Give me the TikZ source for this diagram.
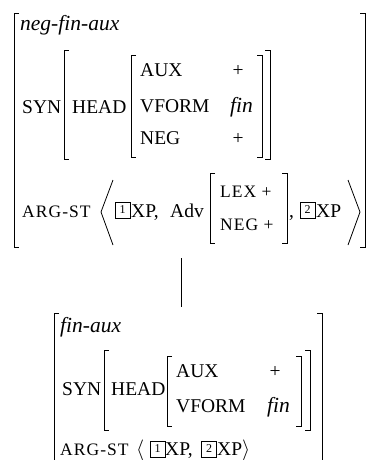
\documentclass[tikz,border=0pt]{standalone}
\usepackage{fontspec}
\newfontfamily\tms{Liberation Serif}
\newfontfamily\tmsc[LetterSpace=6]{Liberation Serif}
\begin{document}
\begin{tikzpicture}[x=1pt,y=-1pt,
  brk/.style={line width=0.8pt},
  txt/.style={anchor=base west, inner sep=0pt, font=\tms\fontsize{19.5}{22}\selectfont},
  itx/.style={anchor=base west, inner sep=0pt, font=\tms\itshape\fontsize{21.5}{22}\selectfont},
  scx/.style={anchor=base west, inner sep=0pt, font=\tmsc\fontsize{17.5}{20}\selectfont},
  tagbox/.style={draw, line width=0.6pt, inner sep=0pt, minimum width=15pt, minimum height=16pt, font=\tms\fontsize{12}{12}\selectfont}]
\useasboundingbox (0,0) rectangle (372,460);
% ---------- top AVM ----------
\draw[brk] (19,13) -| (14,247) -- (19,247);
\draw[brk] (360,13) -| (365,247) -- (360,247);
\node[itx] (ttype) at (20,31) {neg-fin-aux};
\node[txt] (syn1) at (22,113) {SYN};
\draw[brk] (69,50) -| (64,159) -- (69,159);
\draw[brk] (265,50) -| (270,159) -- (265,159);
\node[txt] (head1) at (72,113) {HEAD};
\draw[brk] (136,55) -| (131,157) -- (136,157);
\draw[brk] (257,55) -| (262,157) -- (257,157);
\node[txt] (aux1) at (140,76) {AUX};
\node[txt] (vf1) at (140,112) {VFORM};
\node[txt] (neg1) at (140,144) {NEG};
\node[txt, anchor=base] (auxv1) at (238,76) {+};
\node[itx] (vfv1) at (230,112) {fin};
\node[txt, anchor=base] (negv1) at (238,144) {+};
\node[scx] (arg1) at (22,217) {ARG-ST};
\draw[brk] (113,180) -- (101,212) -- (113,245);
\node[tagbox] (tagA) at (122.5,210) {1};
\node[txt] (xpA) at (131,217) {XP,};
\node[txt] (adv) at (170,217) {Adv};
\draw[brk] (215,173) -| (210,243) -- (215,243);
\draw[brk] (282,173) -| (287,243) -- (282,243);
\node[scx] (lex) at (220,197) {LEX +};
\node[scx] (negb) at (220,230) {NEG +};
\node[txt] (comma) at (289,217) {,};
\node[tagbox] (tagB) at (307.5,210) {2};
\node[txt] (xpB) at (316,217) {XP};
\draw[brk] (348,180) -- (360,212) -- (348,245);
% ---------- connector ----------
\coordinate (ctop) at (181,258);
\coordinate (cbot) at (181,307);
\draw[brk] (ctop) -- (cbot);
% ---------- bottom AVM ----------
\draw[brk] (59,313) -| (54,470);
\draw[brk] (317,313) -| (322,470);
\node[itx] (btype) at (60,332) {fin-aux};
\node[txt] (syn2) at (62,395) {SYN};
\draw[brk] (109,350) -| (104,430) -- (109,430);
\draw[brk] (305,350) -| (310,430) -- (305,430);
\node[txt] (head2) at (111,395) {HEAD};
\draw[brk] (172,356) -| (167,426) -- (172,426);
\draw[brk] (296,356) -| (301,426) -- (296,426);
\node[txt] (aux2) at (176,377) {AUX};
\node[txt] (vf2) at (176,412) {VFORM};
\node[txt, anchor=base] (auxv2) at (275,377) {+};
\node[itx] (vfv2) at (267,412) {fin};
\node[scx] (arg2) at (60,455) {ARG-ST};
\node[txt] (la) at (136,455) {$\langle$};
\node[tagbox] (tagC) at (157.5,449) {1};
\node[txt] (xpC) at (165,455) {XP,};
\node[tagbox] (tagD) at (209,449) {2};
\node[txt] (xpD) at (217,455) {XP$\rangle$};
\end{tikzpicture}
\end{document}
